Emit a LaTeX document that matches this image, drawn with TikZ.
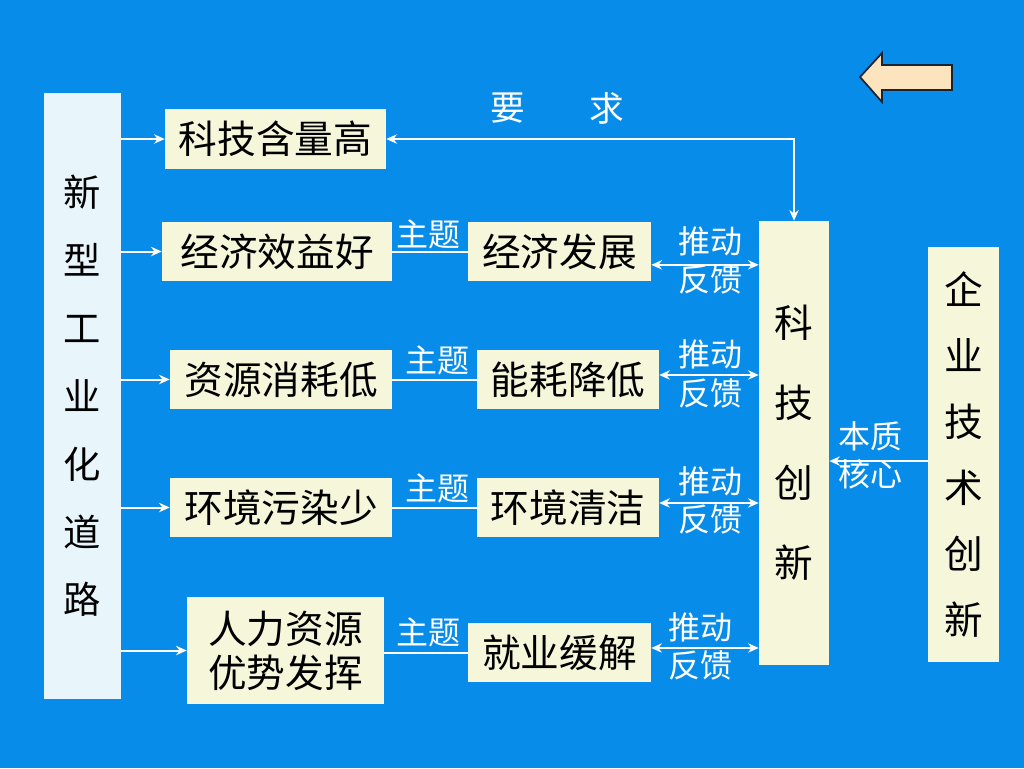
\documentclass[tikz,border=0pt]{standalone}
\usepackage{fontspec}
\newfontfamily\cjk{Noto Sans CJK SC}
\usetikzlibrary{arrows.meta}
\definecolor{bgblue}{RGB}{8,140,234}
\definecolor{cream}{RGB}{246,246,218}
\definecolor{paleblue}{RGB}{232,245,251}
\definecolor{wheatfill}{RGB}{251,228,190}
\definecolor{darkline}{RGB}{25,35,50}
\tikzset{
  sz/.style 2 args={minimum width=#1*0.75pt, minimum height=#2*0.75pt},
  box/.style={fill=cream, inner sep=0pt, text=black, align=center,
    font=\cjk\fontsize{29}{33}\selectfont},
  lab/.style={text=white, inner sep=0pt, align=center,
    font=\cjk\fontsize{24}{29}\selectfont},
  conn/.style={white, line width=1.5pt},
  arr/.style={conn, -{Stealth[length=8pt,width=7pt]}},
  darr/.style={conn, {Stealth[length=8pt,width=7pt]}-{Stealth[length=8pt,width=7pt]}}
}
\begin{document}
\begin{tikzpicture}[x=0.75pt, y=-0.75pt]
\fill[bgblue] (0,0) rectangle (1024,768);
\useasboundingbox (0,0) rectangle (1024,768);

% return arrow top right
\draw[darkline, line width=1.3pt, fill=wheatfill, line join=miter]
  (860,77) -- (882,53) -- (882,65) -- (952,65) -- (952,90) -- (882,90) -- (882,102) -- cycle;

% left column box
\node[box, fill=paleblue, sz={77}{606}, font=\cjk\fontsize{28}{50.9}\selectfont]
  (L) at (82.5,396) {新\\型\\工\\业\\化\\道\\路};

% first column
\node[box, sz={221}{60}] (A1) at (275.5,139) {科技含量高};
\node[box, sz={230}{59}] (A2) at (277,251.5) {经济效益好};
\node[box, sz={222}{59}] (A3) at (281,379.5) {资源消耗低};
\node[box, sz={222}{59}] (A4) at (281,507.5) {环境污染少};
\node[box, sz={197}{107}, font=\cjk\fontsize{29}{33}\selectfont] (A5) at (285.5,650.5) {人力资源\\优势发挥};

% second column
\node[box, sz={183}{59}] (B1) at (559.5,251.5) {经济发展};
\node[box, sz={182}{59}] (B2) at (568,379.5) {能耗降低};
\node[box, sz={182}{59}] (B3) at (568,507.5) {环境清洁};
\node[box, sz={183}{59}] (B5) at (559.5,652.5) {就业缓解};

% tall boxes
\node[box, sz={70}{444}, font=\cjk\fontsize{29}{60}\selectfont] (K) at (794,443) {科\\技\\创\\新};
\node[box, sz={71}{415}, font=\cjk\fontsize{29}{49.5}\selectfont] (Q) at (963.5,454.5) {企\\业\\技\\术\\创\\新};

% arrows from left box
\draw[arr] (L.east |- A1.west) -- (A1.west);
\draw[arr] (L.east |- A2.west) -- (A2.west);
\draw[arr] (L.east |- A3.west) -- (A3.west);
\draw[arr] (L.east |- A4.west) -- (A4.west);
\draw[arr] (L.east |- A5.west) -- (A5.west);

% theme lines
\draw[conn] (A2.east) -- (B1.west);
\draw[conn] (A3.east) -- (B2.west);
\draw[conn] (A4.east) -- (B3.west);
\draw[conn] (A5.east |- B5.west) -- (B5.west);
\node[lab] (T2) at (428,234) {主题};
\node[lab] (T3) at (437,360) {主题};
\node[lab] (T4) at (437,488) {主题};
\node[lab] (T5) at (428,632) {主题};

% push / feedback
\draw[darr] ([yshift=-10pt]B1.east) -- ([yshift=-10pt]B1.east -| K.west);
\draw[darr] ([yshift=3.4pt]B2.east) -- ([yshift=3.4pt]B2.east -| K.west);
\draw[darr] ([yshift=3.4pt]B3.east) -- ([yshift=3.4pt]B3.east -| K.west);
\draw[darr] ([yshift=3.4pt]B5.east) -- ([yshift=3.4pt]B5.east -| K.west);
\node[lab] (P1) at (710,260.5) {推动\\反馈};
\node[lab] (P2) at (710,374) {推动\\反馈};
\node[lab] (P3) at (710,500.5) {推动\\反馈};
\node[lab] (P5) at (700,646.5) {推动\\反馈};

% requirement
\draw[darr] (A1.east) -| (K.north);
\node[lab, font=\cjk\fontsize{26}{30}\selectfont] (Y1) at (508,108) {要};
\node[lab, font=\cjk\fontsize{26}{30}\selectfont] (Y2) at (607,108) {求};

% essence core
\draw[arr] ([yshift=-4.9pt]Q.west) -- ([yshift=-4.9pt]Q.west -| K.east);
\node[lab, font=\cjk\fontsize{24}{28}\selectfont] (E) at (870,455.5) {本质\\核心};
\end{tikzpicture}
\end{document}
